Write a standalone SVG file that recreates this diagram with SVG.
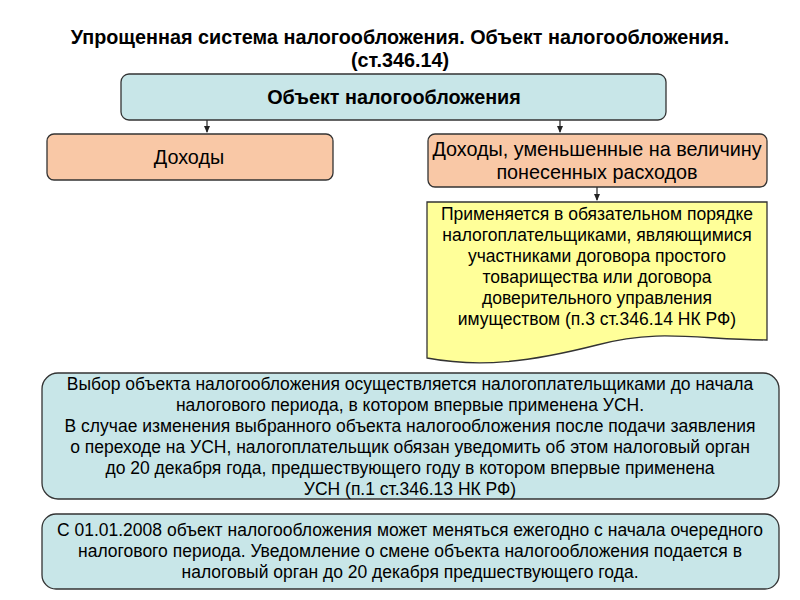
<svg xmlns="http://www.w3.org/2000/svg" width="800" height="600" viewBox="0 0 800 600">
<defs>
<style>
text{font-family:"Liberation Sans",Arial,sans-serif;font-size:17.5px;fill:#000;text-anchor:middle}
.t{font-weight:bold;font-size:19.8px}
.l{font-size:19.8px}
.b{stroke:#333;stroke-width:1.3}
.c{fill:#c8e6e8}
</style>
<marker id="a" markerWidth="8" markerHeight="8" refX="6" refY="4" orient="auto" markerUnits="userSpaceOnUse"><path d="M0,1 L7,4 L0,7z" fill="#222"/></marker>
</defs>
<rect width="800" height="600" fill="#fff"/>
<g id="title"><text class="t" x="400" y="44">Упрощенная система налогообложения. Объект налогообложения.</text><text class="t" x="400" y="67">(ст.346.14)</text></g>
<g id="connectors" stroke="#222" stroke-width="1.2" fill="none">
<line x1="207" y1="120" x2="207" y2="132" marker-end="url(#a)"/>
<line x1="560" y1="120" x2="560" y2="132" marker-end="url(#a)"/>
<line x1="597" y1="187" x2="597" y2="200" marker-end="url(#a)"/>
</g>
<g id="object"><rect class="b c" x="121" y="74" width="545" height="46" rx="8"/><text class="t" x="394" y="104">Объект налогообложения</text></g>
<g id="income"><rect class="b" fill="#f9c8a6" x="47" y="134" width="286" height="46" rx="7"/><text class="l" x="189" y="164">Доходы</text></g>
<g id="income-exp"><rect class="b" fill="#f9c8a6" x="428" y="134" width="339" height="53" rx="7"/><text class="l" x="597" y="156">Доходы, уменьшенные на величину</text><text class="l" x="597" y="179">понесенных расходов</text></g>
<g id="note"><path class="b" fill="#ffff99" d="M427,202 H767 V340 C700,340 660,328 597,345 C530,362 480,368 427,358 Z"/>
<text x="597" y="220">Применяется в обязательном порядке</text>
<text x="597" y="241">налогоплательщиками, являющимися</text>
<text x="597" y="262">участниками договора простого</text>
<text x="597" y="283">товарищества или договора</text>
<text x="597" y="304">доверительного управления</text>
<text x="597" y="325">имуществом (п.3 ст.346.14 НК РФ)</text></g>
<g id="choice"><rect class="b c" x="42" y="373" width="737" height="126" rx="16"/>
<text x="410" y="390">Выбор объекта налогообложения осуществляется налогоплательщиками до начала</text>
<text x="410" y="411">налогового периода, в котором впервые применена УСН.</text>
<text x="410" y="432">В случае изменения выбранного объекта налогообложения после подачи заявления</text>
<text x="410" y="453">о переходе на УСН, налогоплательщик обязан уведомить об этом налоговый орган</text>
<text x="410" y="474">до 20 декабря года, предшествующего году в котором впервые применена</text>
<text x="410" y="495">УСН (п.1 ст.346.13 НК РФ)</text></g>
<g id="change"><rect class="b c" x="42" y="514" width="737" height="75" rx="14"/>
<text x="410" y="536">С 01.01.2008 объект налогообложения может меняться ежегодно с начала очередного</text>
<text x="410" y="557">налогового периода. Уведомление о смене объекта налогообложения подается в</text>
<text x="410" y="578">налоговый орган до 20 декабря предшествующего года.</text></g>
</svg>
